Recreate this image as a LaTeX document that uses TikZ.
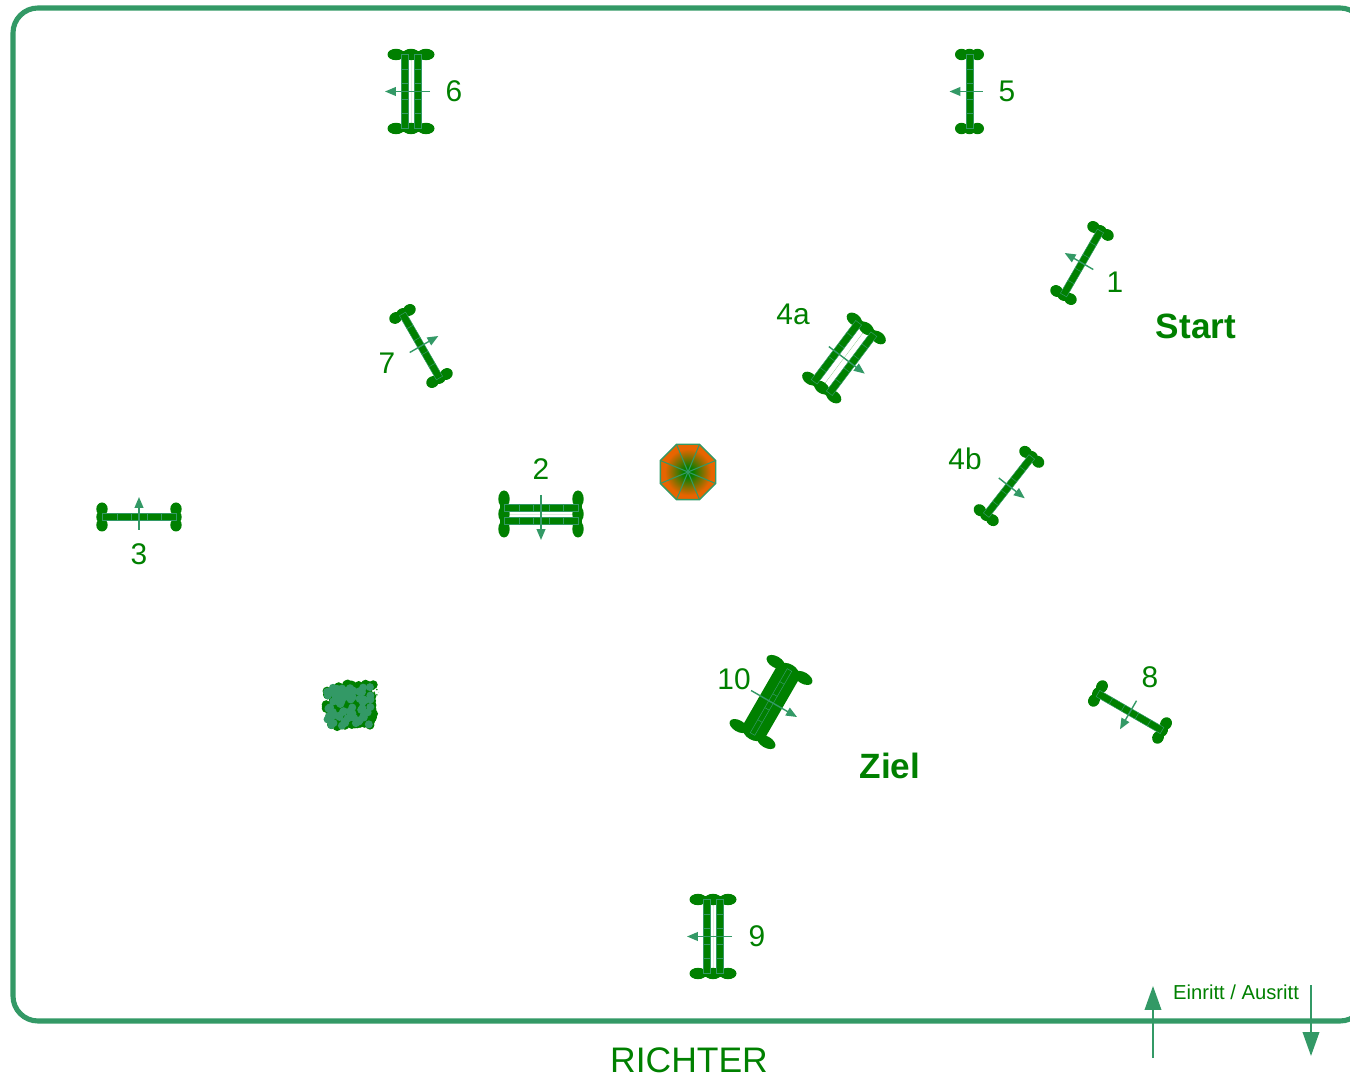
\documentclass[tikz,border=0pt]{standalone}
\usepackage{fontspec}
\setmainfont{Liberation Sans}
\usepackage{tikz}
\usetikzlibrary{arrows.meta, patterns}
\definecolor{fence}{HTML}{339966}
\definecolor{pole}{HTML}{008000}
\definecolor{tent}{HTML}{E86400}
\pgfdeclareradialshading{tentshade}{\pgfpoint{0bp}{0bp}}{color(0bp)=(pole); color(4bp)=(pole); color(21bp)=(tent); color(50bp)=(tent)}

\begin{document}
\begin{tikzpicture}[
  x=0.02cm, y=-0.02cm,
  num/.style={text=pole, font=\fontsize{17}{20}\selectfont, inner sep=0pt},
  tag/.style={text=pole, font=\fontsize{20}{24}\selectfont\bfseries, inner sep=0pt},
  small/.style={text=pole, font=\fontsize{11.5}{14}\selectfont, inner sep=0pt},
  rail/.style={fill=pole, draw=fence, line width=0.3pt},
  lobe/.style={fill=pole},
  dir/.style={draw=fence, line width=0.8pt, -{Triangle[length=6.2pt, width=5pt]}},
  gate/.style={draw=fence, line width=1.1pt, -{Triangle[length=13.6pt, width=9.4pt]}},
  pics/jump/.style n args={6}{code={
    \fill[pole] (-37,-#6) rectangle (37,#6);
    \foreach \e in {-37,37} {
      \fill[lobe] (\e-3.6,-#4) rectangle (\e+3.6,#4);
      \foreach \k in {-1,0,1}
        \fill[lobe] (\e,\k*#4) ellipse [x radius=5.7, y radius=#5];
    }
    \foreach \r in {#1} {
      \draw[rail] (-37,\r-#2) rectangle (37,\r+#2);
      \foreach \t in {-22,-8,8,22}
        \draw[fence, line width=0.3pt] (\t,\r-#2) -- (\t,\r+#2);
    }
    \draw[dir] (0,-#3-13) -- (0,#3+20);
  }},
  pics/single/.style={/tikz/pics/jump={0}{3.6}{0}{8}{6.5}{0}},
  pics/oxer/.style={/tikz/pics/jump={-6.5,6.5}{3.7}{6}{15}{8.5}{0}},
  pics/wide/.style={/tikz/pics/jump={-9.5,9.5}{3.7}{6}{15}{8.5}{0}},
  pics/wall/.style={/tikz/pics/jump={0}{2.6}{10}{16}{10}{12.8}}
]
\useasboundingbox (0,0) rectangle (1350,1077);
\clip (0,0) rectangle (1350,1077);

%% ---------- arena ----------
\draw[fence, line width=2.9pt, rounded corners=14.2pt] (13,8) rectangle (1365,1021);
\node[num, font=\fontsize{20.2}{24}\selectfont] (judge) at (689,1060) {RICHTER};

%% ---------- entry and exit ----------
\draw[gate] (1153,1058) -- (1153,986);
\draw[gate] (1311,985) -- (1311,1056);
\node[small] (gates) at (1236,992) {Einritt / Ausritt};

%% ---------- jumps ----------
\pic[rotate=240] at (1082,263) {single};
\pic at (541,514) {oxer};
\pic[rotate=180] at (139,517) {single};
\pic[rotate=53] at (844,358) {wide};
\pic[rotate=52] at (1009,486) {single};
\pic[rotate=270] at (969.5,91.5) {single};
\pic[rotate=270] at (411,91.5) {oxer};
\pic[rotate=120] at (421,346) {single};
\pic[rotate=330] at (1130,712) {single};
\pic[rotate=270] at (713,936.5) {oxer};
\pic[rotate=60] at (771,702) {wall};

%% ---------- numbers ----------
\node[num] (n1)  at (1115,282) {1};
\node[num] (n2)  at (541,469)  {2};
\node[num] (n3)  at (139,554)  {3};
\node[num] (n4a) at (793,314)  {4a};
\node[num] (n4b) at (965,459)  {4b};
\node[num] (n5)  at (1007,91)  {5};
\node[num] (n6)  at (454,91)   {6};
\node[num] (n7)  at (387,363)  {7};
\node[num] (n8)  at (1150,677) {8};
\node[num] (n9)  at (757,936)  {9};
\node[num] (n10) at (734,679)  {10};
\node[tag] (start) at (1196,326) {Start};
\node[tag] (ziel)  at (890,766)  {Ziel};

%% ---------- octagon ----------
\begin{scope}[shift={(688,472)}]
\shade[shading=tentshade]
  (27.7,-11.5) -- (11.5,-27.7) -- (-11.5,-27.7) -- (-27.7,-11.5) -- (-27.7,11.5)
  -- (-11.5,27.7) -- (11.5,27.7) -- (27.7,11.5) -- cycle;
\draw[fence, line width=0.8pt]
  (27.7,-11.5) -- (11.5,-27.7) -- (-11.5,-27.7) -- (-27.7,-11.5) -- (-27.7,11.5)
  -- (-11.5,27.7) -- (11.5,27.7) -- (27.7,11.5) -- cycle;
\foreach \a/\b in {27.7/11.5,11.5/27.7,-11.5/27.7,-27.7/11.5,-27.7/-11.5,-11.5/-27.7,11.5/-27.7,27.7/-11.5}
  \draw[fence, line width=0.6pt] (0,0) -- (\a,\b);
\end{scope}

%% ---------- shrub ----------
\fill[pole] (329,687) rectangle (372,727);
\pgfmathsetseed{11}
\foreach \i in {1,...,110} {
  \pgfmathsetmacro\bx{350+24*rand}
  \pgfmathsetmacro\by{706+22*rand}
  \fill[pole] (\bx,\by) circle (4.5);
}
\fill[pattern=crosshatch dots, pattern color=pole] (370,692) circle (9);
\foreach \i in {1,...,75} {
  \pgfmathsetmacro\bx{349+22*rand}
  \pgfmathsetmacro\by{706+20*rand}
  \fill[fence] (\bx,\by) circle (4);
}
\end{tikzpicture}
\end{document}
